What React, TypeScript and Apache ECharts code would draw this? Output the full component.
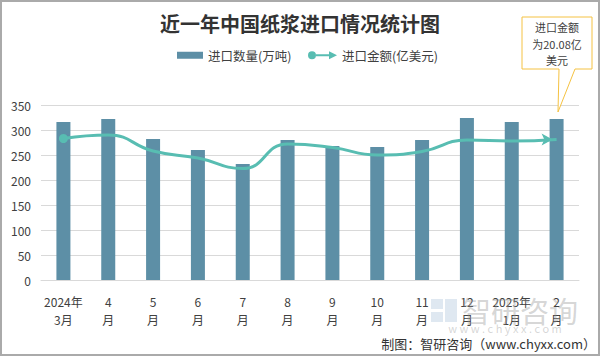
import React, { useEffect, useRef } from "react";
import * as echarts from "echarts";

const title = "近一年中国纸浆进口情况统计图";
const months = [
  "2024年\n3月", "4\n月", "5\n月", "6\n月", "7\n月", "8\n月",
  "9\n月", "10\n月", "11\n月", "12\n月", "2025年\n1月", "2\n月",
];
const volumeName = "进口数量(万吨)";
const amountName = "进口金额(亿美元)";
const volume = [316, 322, 282, 260, 232, 280, 268, 266, 280, 324, 316, 322];
const amount = [283, 290, 258, 244, 223, 272, 265, 250, 257, 280, 278, 281];
const yTicks = { min: 0, max: 350, interval: 50 };
const calloutLines = ["进口金额", "为20.08亿", "美元"];
const footer = "制图：智研咨询（www.chyxx.com）";

const FONT = "'Noto Sans CJK SC', 'Microsoft YaHei', sans-serif";
const BAR = "#5d8fa6";
const LINE = "#58bdb2";

export default function App() {
  const ref = useRef<HTMLDivElement>(null);
  useEffect(() => {
    if (!ref.current) return;
    const chart = echarts.init(ref.current, undefined, { renderer: "svg" });
    const last = amount.length - 1;
    const lineData = amount.map((v, i) => {
      if (i === 0) return { value: v, symbol: "circle", symbolSize: 9 };
      if (i === last)
        return { value: v, symbol: "arrow", symbolSize: [9, 11], symbolRotate: -90, symbolOffset: [-4, 0] };
      return { value: v, symbol: "none" };
    });
    chart.setOption({
      animation: false,
      backgroundColor: "#ffffff",
      title: {
        text: title,
        left: "center",
        top: 13,
        padding: 0,
        textStyle: { fontFamily: FONT, fontSize: 20, fontWeight: "bold", color: "#333333" },
      },
      legend: [
        {
          data: [volumeName],
          left: 172,
          top: 44,
          itemWidth: 26,
          itemHeight: 7,
          icon: "rect",
          textStyle: { fontFamily: FONT, fontSize: 12.5, color: "#404040" },
        },
        {
          data: [amountName],
          left: 303,
          top: 44,
          itemWidth: 29,
          itemHeight: 10,
          icon: "path://M1,5 A4,4 0 1,0 9,5 A4,4 0 1,0 1,5 Z M9,4 L22,4 L22,1 L30,5 L22,9 L22,6 L9,6 Z",
          textStyle: { fontFamily: FONT, fontSize: 12.5, color: "#404040" },
        },
      ],
      grid: { left: 41, right: 21, top: 105, bottom: 76, containLabel: false },
      xAxis: {
        type: "category",
        data: months,
        axisLine: { show: true, lineStyle: { color: "#d9d9d9" } },
        axisTick: { show: false },
        axisLabel: {
          interval: 0,
          margin: 12,
          lineHeight: 18,
          fontFamily: FONT,
          fontSize: 12,
          color: "#404040",
        },
      },
      yAxis: {
        type: "value",
        min: yTicks.min,
        max: yTicks.max,
        interval: yTicks.interval,
        axisLine: { show: false },
        axisTick: { show: false },
        splitLine: { lineStyle: { color: "#d9d9d9" } },
        axisLabel: { margin: 10, fontFamily: FONT, fontSize: 12, color: "#404040" },
      },
      series: [
        {
          name: volumeName,
          type: "bar",
          data: volume,
          barWidth: 14,
          itemStyle: { color: BAR },
        },
        {
          name: amountName,
          type: "line",
          data: lineData,
          smooth: 0.5,
          showSymbol: true,
          itemStyle: { color: LINE },
          lineStyle: { color: LINE, width: 3 },
        },
      ],
      graphic: [
        {
          type: "rect",
          shape: { x: 1, y: 1, width: 598, height: 354 },
          style: { fill: "none", stroke: "#aaaaaa", lineWidth: 2 },
          silent: true,
          z: 100,
        },
        {
          type: "polygon",
          shape: {
            points: [
              [522, 17], [592, 17], [592, 69], [575, 69], [558, 112], [559, 69], [522, 69],
            ],
          },
          style: { fill: "#ffffff", stroke: "#f5c242", lineWidth: 1 },
          z: 50,
        },
        ...calloutLines.map((t, i) => ({
          type: "text",
          x: 557,
          y: 27 + i * 16.5,
          z: 51,
          style: {
            text: t,
            align: "center",
            verticalAlign: "middle",
            fontFamily: FONT,
            fontSize: 11,
            fill: "#404040",
          },
        })),
        {
          type: "rect",
          shape: { x: 431, y: 299, width: 12, height: 10 },
          style: { fill: "rgba(150,180,210,0.3)" },
          z: 40,
        },
        {
          type: "rect",
          shape: { x: 445, y: 299, width: 12, height: 23 },
          style: { fill: "rgba(150,180,210,0.3)" },
          z: 40,
        },
        {
          type: "rect",
          shape: { x: 431, y: 312, width: 12, height: 10 },
          style: { fill: "rgba(150,180,210,0.3)" },
          z: 40,
        },
        {
          type: "text",
          x: 462,
          y: 310,
          z: 40,
          style: {
            text: "智研咨询",
            align: "left",
            verticalAlign: "middle",
            fontFamily: FONT,
            fontSize: 29,
            fill: "rgba(150,150,150,0.4)",
          },
        },
        {
          type: "text",
          x: 505,
          y: 328,
          z: 40,
          style: {
            text: "w w w . c h y x x . c o m",
            align: "center",
            verticalAlign: "middle",
            fontFamily: FONT,
            fontSize: 11,
            fill: "rgba(150,150,150,0.4)",
          },
        },
        {
          type: "text",
          x: 596,
          y: 343,
          z: 60,
          style: {
            text: footer,
            align: "right",
            verticalAlign: "middle",
            fontFamily: FONT,
            fontSize: 13,
            fill: "#333333",
          },
        },
      ],
    });
    return () => chart.dispose();
  }, []);
  return (
    <div
      ref={ref}
      style={{ position: "fixed", left: 0, top: 0, width: 600, height: 356 }}
    />
  );
}
